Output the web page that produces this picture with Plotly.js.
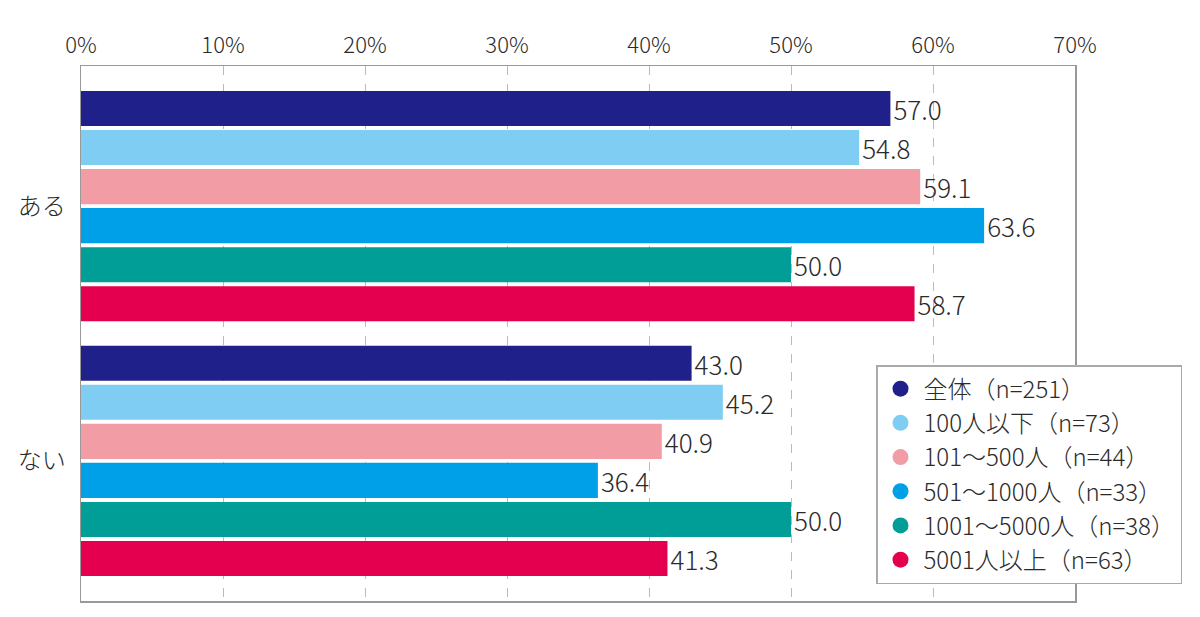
<!DOCTYPE html>
<html>
<head>
<meta charset="utf-8">
<script src="https://cdn.plot.ly/plotly-3.0.1.min.js"></script>
<style>html,body{margin:0;padding:0;background:#fff;}#chart{width:1200px;height:617px;}</style>
</head>
<body>
<div id="chart"></div>
<script>
const categories = ["ある", "ない"];
const seriesNames = ["全体（n=251）", "100人以下（n=73）", "101～500人（n=44）", "501～1000人（n=33）", "1001～5000人（n=38）", "5001人以上（n=63）"];
const zentai = [57.0, 43.0];
const under100 = [54.8, 45.2];
const s101to500 = [59.1, 40.9];
const s501to1000 = [63.6, 36.4];
const s1001to5000 = [50.0, 50.0];
const over5001 = [58.7, 41.3];
const seriesValues = [zentai, under100, s101to500, s501to1000, s1001to5000, over5001];
const colors = ["#20208a", "#80cdf3", "#f29ca6", "#00a0e8", "#009e96", "#e4004f"];
const tickVals = [0, 10, 20, 30, 40, 50, 60, 70];
const tickText = ["0%", "10%", "20%", "30%", "40%", "50%", "60%", "70%"];

const FONT = "'Noto Sans CJK JP', 'Noto Sans', sans-serif";
const traces = [];
seriesValues.forEach((vals, i) => {
  traces.push({
    type: "bar", orientation: "h",
    y: categories, x: vals,
    name: seriesNames[i],
    marker: {color: colors[i]},
    text: vals.map(v => v.toFixed(1)),
    textposition: "outside",
    constraintext: "none",
    cliponaxis: false,
    textfont: {family: FONT, size: 26, color: "#2a2a2a", weight: 300},
    showlegend: false,
    hoverinfo: "x+name"
  });
});
seriesValues.forEach((vals, i) => {
  traces.push({
    type: "scatter", mode: "markers",
    x: [null], y: [null],
    name: seriesNames[i],
    marker: {color: colors[i], size: 20, symbol: "circle"},
    showlegend: true
  });
});

const layout = {
  width: 1200, height: 617,
  margin: {l: 81, r: 125, t: 66, b: 16},
  paper_bgcolor: "#fff", plot_bgcolor: "#fff",
  barmode: "group", bargap: 0.08, bargroupgap: 0.1,
  font: {family: FONT, color: "#2a2a2a"},
  showlegend: true,
  xaxis: {
    side: "top", range: [0, 70], tickvals: tickVals, ticktext: tickText,
    tickfont: {family: FONT, size: 22, color: "#2a2a2a", weight: 300},
    showgrid: true, gridcolor: "#bbb", griddash: "dash", gridwidth: 1,
    showline: true, linecolor: "#999", linewidth: 1.5, mirror: true,
    zeroline: false, ticks: "", ticklabelstandoff: 3, fixedrange: true
  },
  yaxis: {
    type: "category", categoryorder: "array", categoryarray: categories,
    range: [1.55, -0.55], autorange: false,
    tickfont: {family: FONT, size: 24, color: "#2a2a2a", weight: 300},
    showline: true, linecolor: "#999", linewidth: 1.5, mirror: true,
    showgrid: false, zeroline: false, ticks: "", ticklabelstandoff: 9
  },
  legend: {
    x: 0.7998, y: 0.441, xanchor: "left", yanchor: "top",
    bgcolor: "#fff", bordercolor: "#aaa", borderwidth: 1.5,
    font: {family: FONT, size: 24, color: "#2a2a2a", weight: 300},
    itemsizing: "trace", itemwidth: 36, tracegroupgap: 0
  }
};

Plotly.newPlot("chart", traces, layout, {displayModeBar: false, staticPlot: true});
</script>
</body>
</html>
